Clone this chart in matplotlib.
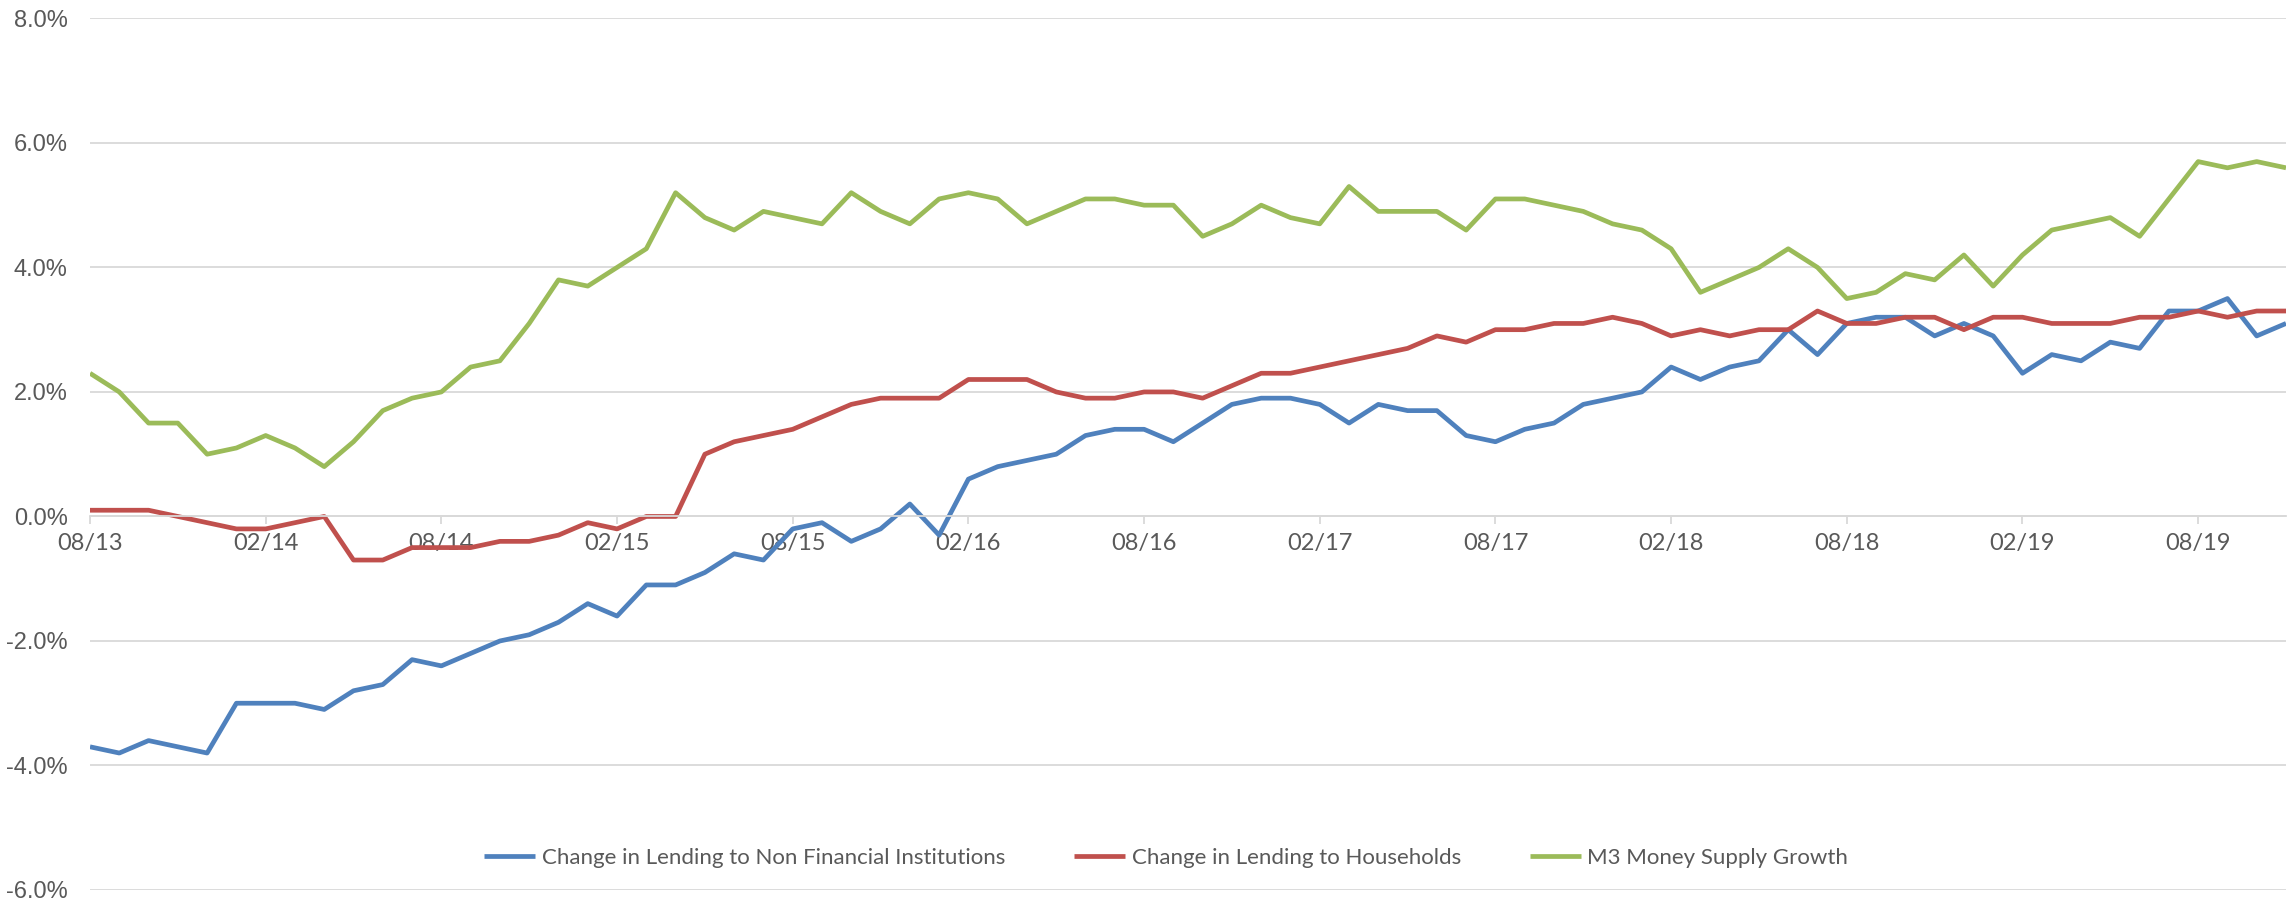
import matplotlib
matplotlib.use("Agg")
import matplotlib.pyplot as plt
import numpy as np

tick_labels = ["08/13", "02/14", "08/14", "02/15", "08/15", "02/16", "08/16",
               "02/17", "08/17", "02/18", "08/18", "02/19", "08/19"]

lending_nfc = [-3.7, -3.8, -3.6, -3.7, -3.8, -3.0, -3.0,
               -3.0, -3.1, -2.8, -2.7, -2.3, -2.4,
               -2.2, -2.0, -1.9, -1.7, -1.4, -1.6,
               -1.1, -1.1, -0.9, -0.6, -0.7, -0.2,
               -0.1, -0.4, -0.2, 0.2, -0.3, 0.6,
               0.8, 0.9, 1.0, 1.3, 1.4, 1.4,
               1.2, 1.5, 1.8, 1.9, 1.9, 1.8,
               1.5, 1.8, 1.7, 1.7, 1.3, 1.2,
               1.4, 1.5, 1.8, 1.9, 2.0, 2.4,
               2.2, 2.4, 2.5, 3.0, 2.6, 3.1,
               3.2, 3.2, 2.9, 3.1, 2.9, 2.3,
               2.6, 2.5, 2.8, 2.7, 3.3, 3.3,
               3.5, 2.9, 3.1]

lending_households = [0.1, 0.1, 0.1, 0.0, -0.1, -0.2, -0.2,
                      -0.1, 0.0, -0.7, -0.7, -0.5, -0.5,
                      -0.5, -0.4, -0.4, -0.3, -0.1, -0.2,
                      0.0, 0.0, 1.0, 1.2, 1.3, 1.4,
                      1.6, 1.8, 1.9, 1.9, 1.9, 2.2,
                      2.2, 2.2, 2.0, 1.9, 1.9, 2.0,
                      2.0, 1.9, 2.1, 2.3, 2.3, 2.4,
                      2.5, 2.6, 2.7, 2.9, 2.8, 3.0,
                      3.0, 3.1, 3.1, 3.2, 3.1, 2.9,
                      3.0, 2.9, 3.0, 3.0, 3.3, 3.1,
                      3.1, 3.2, 3.2, 3.0, 3.2, 3.2,
                      3.1, 3.1, 3.1, 3.2, 3.2, 3.3,
                      3.2, 3.3, 3.3]

m3_growth = [2.3, 2.0, 1.5, 1.5, 1.0, 1.1, 1.3,
             1.1, 0.8, 1.2, 1.7, 1.9, 2.0,
             2.4, 2.5, 3.1, 3.8, 3.7, 4.0,
             4.3, 5.2, 4.8, 4.6, 4.9, 4.8,
             4.7, 5.2, 4.9, 4.7, 5.1, 5.2,
             5.1, 4.7, 4.9, 5.1, 5.1, 5.0,
             5.0, 4.5, 4.7, 5.0, 4.8, 4.7,
             5.3, 4.9, 4.9, 4.9, 4.6, 5.1,
             5.1, 5.0, 4.9, 4.7, 4.6, 4.3,
             3.6, 3.8, 4.0, 4.3, 4.0, 3.5,
             3.6, 3.9, 3.8, 4.2, 3.7, 4.2,
             4.6, 4.7, 4.8, 4.5, 5.1, 5.7,
             5.6, 5.7, 5.6]

series_names = ["Change in Lending to Non Financial Institutions",
                "Change in Lending to Households",
                "M3 Money Supply Growth"]
colors = ["#4F81BD", "#C0504D", "#9BBB59"]

plt.rcParams['font.family'] = ['Lato', 'DejaVu Sans']

fig = plt.figure(figsize=(22.87, 9.01), dpi=100)
ax = fig.add_axes([90/2287, 1 - 890/901, (2286 - 90)/2287, (890 - 18.4)/901])

x = np.arange(len(m3_growth))
for vals, name, c in zip([lending_nfc, lending_households, m3_growth], series_names, colors):
    ax.plot(x, vals, color=c, lw=3.4, label=name, solid_joinstyle='round', solid_capstyle='butt')

ax.set_xlim(0, len(m3_growth) - 1)
ax.set_ylim(-6, 8)
yt = np.arange(-6, 8.1, 2)
ax.set_yticks(yt)
ax.set_yticklabels([f"{v:.1f}%" for v in yt], family=['Liberation Sans', 'DejaVu Sans'])
ax.set_xticks(np.arange(0, len(m3_growth), 6))
ax.set_xticklabels(tick_labels, family=['Liberation Sans', 'DejaVu Sans'])

ax.grid(axis='y', color='#D9D9D9', lw=1.3)
ax.set_axisbelow(True)
for s in ['top', 'right', 'left']:
    ax.spines[s].set_visible(False)
ax.spines['bottom'].set_position(('data', 0))
ax.spines['bottom'].set_color('#D9D9D9')
ax.spines['bottom'].set_linewidth(1.3)
ax.tick_params(axis='y', length=0, pad=16, labelsize=17, labelcolor='#595959')
ax.tick_params(axis='x', length=6, width=1.3, color='#D9D9D9', pad=6, labelsize=17, labelcolor='#595959')

leg = ax.legend(loc='center', bbox_to_anchor=(0.49, 0.037), ncol=3, frameon=False,
                fontsize=16, handlelength=2.3, handletextpad=0.3, columnspacing=3.1)
for t in leg.get_texts():
    t.set_color('#595959')

fig.savefig("out.png", dpi=100)
